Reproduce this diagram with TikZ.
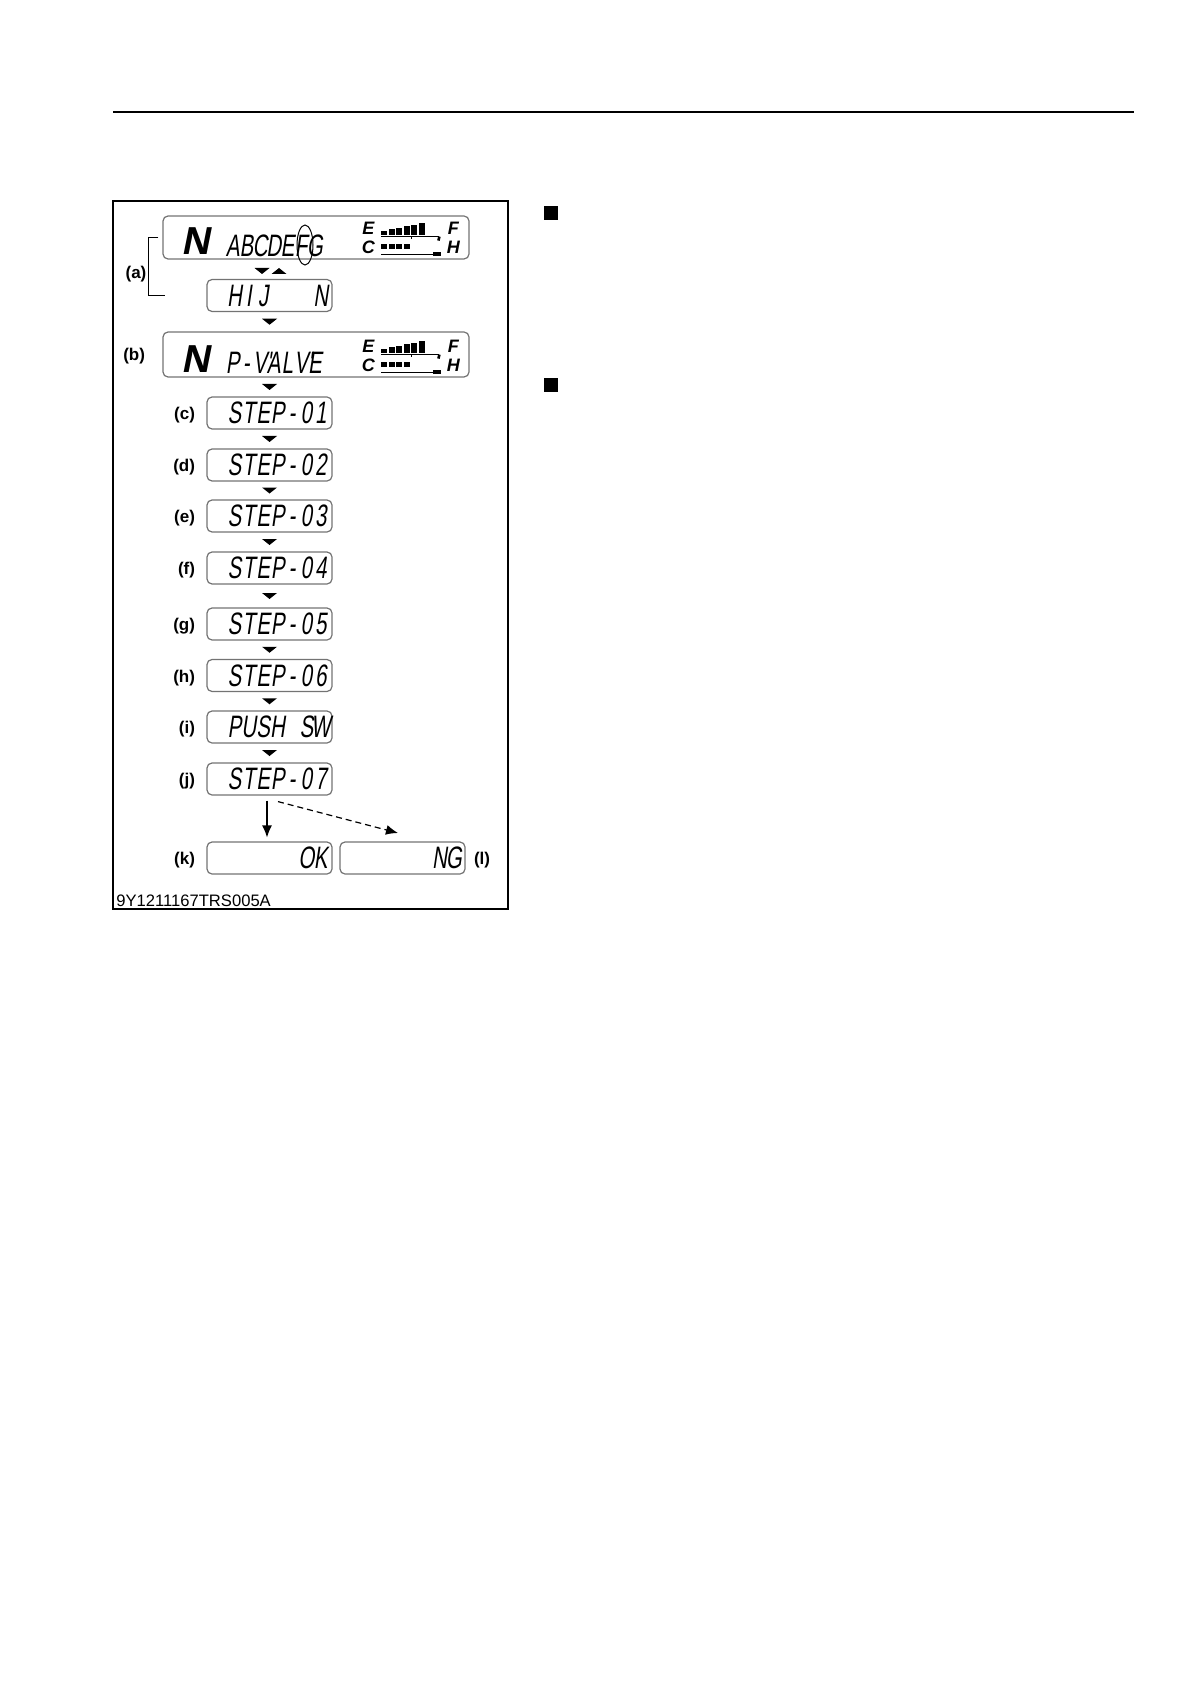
\documentclass[tikz,border=0pt]{standalone}
\usepackage{fontspec}
\setmainfont{Liberation Sans}
\newfontfamily\lcdfont[FakeSlant=0.15,FakeStretch=0.66]{Liberation Sans}
\newfontfamily\bignfont[FakeSlant=0.2]{Liberation Sans}
\usetikzlibrary{positioning,calc,arrows.meta}

\makeatletter
% one character per display cell
\newcommand{\lcdtext}[2][7.2pt]{\@tfor\lcd@c:=#2\do{\makebox[#1][c]{\lcd@c}}}
\makeatother

\tikzset{
  lcd/.style={draw=black!55, line width=0.6pt, rounded corners=2.5pt, inner xsep=2pt, inner ysep=0pt,
    font=\lcdfont\fontsize{15.5}{15.5}\selectfont},
  lcdsmall/.style={lcd, minimum width=62.5pt, minimum height=16pt, text width=58.5pt, align=right},
  lcdwide/.style={lcd, minimum width=153pt, minimum height=21.5pt},
  tag/.style={font=\bfseries\fontsize{8.5}{9}\selectfont, inner sep=0pt},
  gaugetxt/.style={font=\bfseries\itshape\fontsize{9}{9}\selectfont, inner sep=0pt}
}

% fuel / temperature gauge, placed from the box corner
\newcommand{\gauge}[1]{%
  \begin{scope}[shift={(#1.south west)}]
    \node[gaugetxt] (#1E) at (206,-31) {E};
    \node[gaugetxt] (#1C) at (206,-12) {C};
    \node[gaugetxt] (#1F) at (291,-31) {F};
    \node[gaugetxt] (#1H) at (291,-12) {H};
    \foreach \i in {0,...,5}
      \fill (219+7.5*\i,-25) rectangle ++(6,{-4-1.5*\i});
    \draw[line width=0.7pt] (219,-23) -- (277,-23);
    \draw[line width=0.7pt] (249,-23) -- (249,-21);
    \draw[line width=1.3pt] (277,-23) -- (276,-19);
    \foreach \i in {0,...,3}
      \fill (219+7.5*\i,-16) rectangle ++(6,5);
    \draw[line width=0.7pt] (219,-5) -- (274,-5);
    \fill (271,-8) rectangle (279,-3.5);
  \end{scope}}

\newcommand{\downmark}[2]{\fill ($(#1.south -| col)!.5!(#2.north -| col)$) ++(-7.5,-3) -- ++(15,0) -- ++(-7.5,6) -- cycle;}

\begin{document}
\begin{tikzpicture}[x=0.5pt,y=-0.5pt,>={Latex[length=6pt,width=5pt]}]
\useasboundingbox (0,0) rectangle (1190,1684);

\draw[line width=1pt] (113,112) -- (1134,112);
\draw[line width=0.6pt] (113,201) rectangle (508,909);
\fill (544,206) rectangle (558,220);
\fill (544,378) rectangle (558,392);

\coordinate (col) at (269.5,0);

\node[lcdwide] (a1) at (316,237.5) {};
\node[lcdsmall] (a2) at (269.5,295.5) {\lcdtext{HIJ~~~N}};
\node[lcdwide, minimum height=22.5pt] (b) at (316,354.5) {};
\node[lcdsmall] (c) at (269.5,413) {\lcdtext{STEP-01}};
\node[lcdsmall] (d) at (269.5,465) {\lcdtext{STEP-02}};
\node[lcdsmall] (e) at (269.5,516) {\lcdtext{STEP-03}};
\node[lcdsmall] (f) at (269.5,568) {\lcdtext{STEP-04}};
\node[lcdsmall] (g) at (269.5,624) {\lcdtext{STEP-05}};
\node[lcdsmall] (h) at (269.5,675.5) {\lcdtext{STEP-06}};
\node[lcdsmall] (i) at (269.5,727) {\lcdtext{PUSH~SW}};
\node[lcdsmall] (j) at (269.5,779) {\lcdtext{STEP-07}};
\node[lcdsmall] (k) at (269.5,858) {\lcdtext{OK}};
\node[lcdsmall] (l) at (402.5,858) {\lcdtext{NG}};

% contents of the two wide displays
\node[anchor=base west, inner sep=0pt, font=\bignfont\bfseries\fontsize{19.5}{19.5}\selectfont] (a1n) at ([shift={(19,-5)}]a1.south west) {N};
\node[anchor=base west, inner sep=0pt, font=\lcdfont\fontsize{15.5}{15.5}\selectfont] (a1t) at ([shift={(63,-3)}]a1.south west) {\lcdtext[6.85pt]{ABCDEFG}};
\draw[line width=0.5pt] (305,245) ellipse [x radius=4pt, y radius=10pt];
\gauge{a1}
\node[anchor=base west, inner sep=0pt, font=\bignfont\bfseries\fontsize{19.5}{19.5}\selectfont] (bn) at ([shift={(19,-5)}]b.south west) {N};
\node[anchor=base west, inner sep=0pt, font=\lcdfont\fontsize{15.5}{15.5}\selectfont] (bt) at ([shift={(63,-4)}]b.south west) {\lcdtext[6.85pt]{P-{V\makebox[0pt][l]{'}}AL{V\makebox[0pt][l]{'}}E}};
\gauge{b}

% labels
\node[tag] (la) at (136,274) {(a)};
\draw[line width=0.6pt] ([xshift=-2pt]a1.west) -- ++(-5pt,0) |- ([xshift=-20.5pt]a2.west);
\node[tag, left=8.5pt of b, yshift=-1pt] (lb) {(b)};
\foreach \n in {c,d,e,f,g,h,i,j,k}
  \node[tag, left=5.5pt of \n, yshift=-1.2pt] (l\n) {(\n)};
\node[tag, right=4pt of l, yshift=-1.2pt] (ll) {(l)};

% flow marks
\fill (262,271) ++(-7.5,-3) -- ++(15,0) -- ++(-7.5,6) -- cycle;
\fill (279,271) ++(-7.5,3) -- ++(15,0) -- ++(-7.5,-6) -- cycle;
\downmark{a2}{b}
\downmark{b}{c}
\downmark{c}{d}
\downmark{d}{e}
\downmark{e}{f}
\downmark{f}{g}
\downmark{g}{h}
\downmark{h}{i}
\downmark{i}{j}

\coordinate (ngtip) at (398,833);
\draw[->, line width=0.6pt] ([xshift=-1.25pt,yshift=-2.5pt]j.south) -- ([xshift=-1.25pt,yshift=2pt]k.north);
\draw[->, line width=0.6pt, dash pattern=on 3pt off 2pt] ([xshift=4.25pt,yshift=-3pt]j.south) -- (ngtip);

\node[anchor=base west, inner sep=0pt, font=\fontsize{8.3}{8.3}\selectfont] (code) at (116,906) {9Y1211167TRS005A};
\end{tikzpicture}
\end{document}
